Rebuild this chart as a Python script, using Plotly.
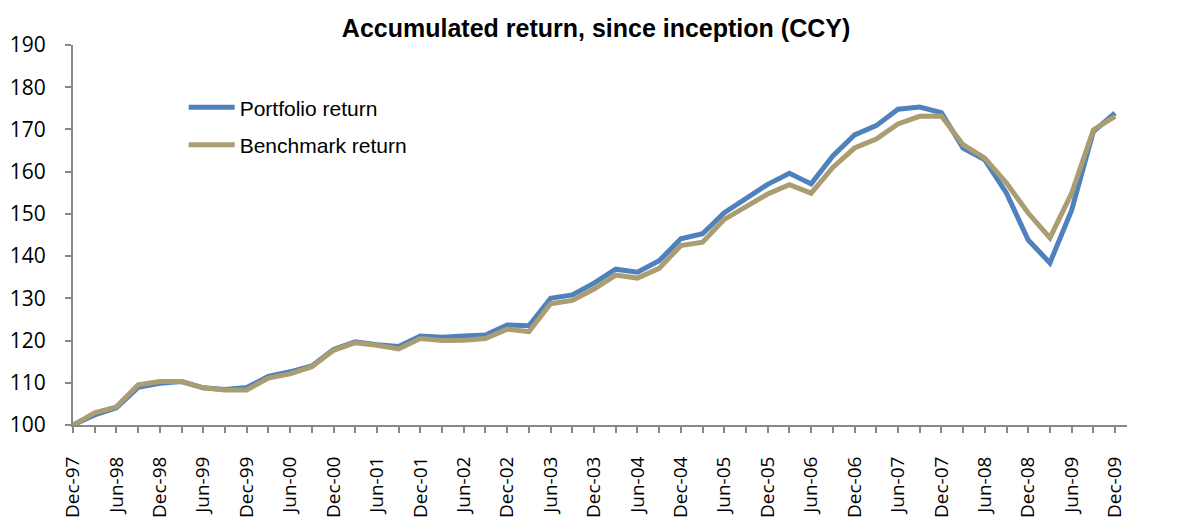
import plotly.graph_objects as go

# Quarter index (0 = Dec-97 ... 48 = Dec-09)
quarters = list(range(49))

portfolio = [100.0, 102.4, 104.1, 108.9, 109.9, 110.3, 108.8, 108.4, 108.9, 111.5,
             112.6, 114.0, 117.9, 119.7, 119.0, 118.6, 121.1, 120.8, 121.1, 121.3,
             123.7, 123.5, 130.0, 130.8, 133.6, 136.9, 136.2, 138.9, 144.1, 145.3,
             150.3, 153.7, 157.0, 159.6, 157.1, 163.7, 168.7, 170.9, 174.8, 175.3,
             174.0, 165.6, 162.8, 154.9, 143.8, 138.4, 150.9, 169.5, 173.9]

benchmark = [100.0, 102.9, 104.3, 109.5, 110.3, 110.3, 108.8, 108.3, 108.3, 111.1,
             112.1, 113.8, 117.7, 119.5, 118.9, 118.0, 120.5, 120.0, 120.1, 120.5,
             122.7, 122.1, 128.7, 129.5, 132.2, 135.5, 134.8, 137.1, 142.5, 143.3,
             148.7, 151.7, 154.7, 156.9, 154.9, 161.0, 165.6, 167.7, 171.3, 173.1,
             173.2, 166.4, 163.2, 157.3, 150.2, 144.3, 154.9, 169.9, 173.1]

tick_labels = ["Dec-97", "Jun-98", "Dec-98", "Jun-99", "Dec-99", "Jun-00", "Dec-00",
               "Jun-01", "Dec-01", "Jun-02", "Dec-02", "Jun-03", "Dec-03", "Jun-04",
               "Dec-04", "Jun-05", "Dec-05", "Jun-06", "Dec-06", "Jun-07", "Dec-07",
               "Jun-08", "Dec-08", "Jun-09", "Dec-09"]
tick_positions = list(range(0, 49, 2))

y_ticks = list(range(100, 191, 10))

BLUE = "#4F81BD"
TAN = "#AA9D72"
AXIS = "#888888"
XTICKFONT = dict(family="Open Sans", size=19, color="#000000")
YTICKFONT = dict(family="Open Sans", size=21, color="#000000")

fig = go.Figure()
fig.add_trace(go.Scatter(x=quarters, y=portfolio, mode="lines", name="Portfolio return",
                         line=dict(color=BLUE, width=5), legendgroup="p"))
fig.add_trace(go.Scatter(x=quarters, y=benchmark, mode="lines", name="Benchmark return",
                         line=dict(color=TAN, width=5), legendgroup="b"))

fig.update_layout(
    width=1182, height=511,
    margin=dict(l=65, r=63, t=37, b=94),
    paper_bgcolor="white", plot_bgcolor="white",
    title=dict(text="Accumulated return, since inception (CCY)",
               font=dict(family="Liberation Sans", size=25, color="#000000", weight="bold"),
               x=0.4975, xanchor="center", y=0.961, yanchor="middle"),
    showlegend=True,
    legend=dict(x=0.105, y=0.889, xanchor="left", yanchor="top",
                font=dict(family="Liberation Sans", size=21, color="#000000"),
                bgcolor="rgba(0,0,0,0)", traceorder="grouped", tracegroupgap=7,
                itemwidth=46),
    xaxis=dict(range=[0, 48.55], tickmode="array", tickvals=tick_positions,
               ticktext=tick_labels, tickangle=-90, tickfont=XTICKFONT,
               showline=True, linecolor=AXIS, linewidth=2,
               ticks="outside", ticklen=6, tickcolor=AXIS, tickwidth=1.5,
               minor=dict(dtick=1, tick0=0, ticks="outside", ticklen=6,
                          tickcolor=AXIS, tickwidth=1.5),
               showgrid=False, zeroline=False, automargin=False,
               ticklabelstandoff=16),
    yaxis=dict(range=[100, 190], tickvals=y_ticks, tickfont=YTICKFONT,
               showline=True, linecolor=AXIS, linewidth=2,
               ticks="outside", ticklen=6, tickcolor=AXIS, tickwidth=1.5,
               showgrid=False, zeroline=False, automargin=False,
               ticklabelstandoff=15),
    yaxis2=dict(range=[100, 190], tickvals=y_ticks, tickfont=YTICKFONT,
                overlaying="y", side="right", anchor="x",
                showline=True, linecolor=AXIS, linewidth=2,
                ticks="outside", ticklen=6, tickcolor=AXIS, tickwidth=1.5,
                showgrid=False, zeroline=False, automargin=False,
                ticklabelstandoff=5),
)

fig.write_html("out.html")
